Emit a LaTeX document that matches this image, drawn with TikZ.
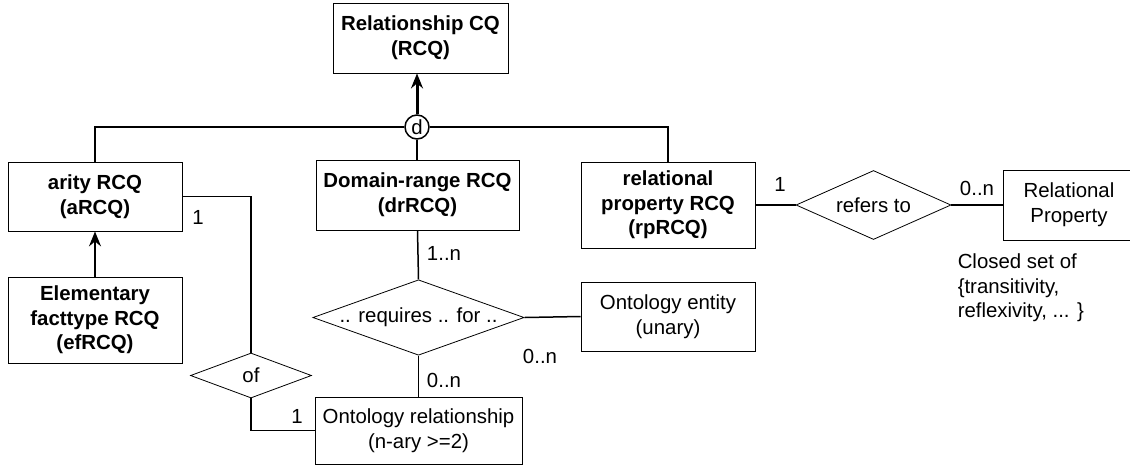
\documentclass[tikz,border=0pt]{standalone}
\usepackage{fontspec}
\setmainfont{Liberation Sans}
\usepackage{tikz}
\usetikzlibrary{arrows.meta,shapes.geometric}
\tikzset{%
    ent/.style={draw, thin, inner sep=0pt, align=center, minimum width=174pt*0.5},
    rel/.style={draw, thin, diamond, aspect=2, inner sep=0pt, align=center},
    card/.style={inner sep=0pt},
    isa/.style={-{Stealth[length=7.5pt,width=6pt,inset=2.5pt]}}
}

\begin{document}
\begin{tikzpicture}[x=0.5pt,y=-0.5pt,line width=0.75pt,
    every node/.append style={font=\fontsize{10.2}{12.3}\selectfont}]
    \useasboundingbox (0,0) rectangle (1130,468);
    \node[ent, minimum width=87.5pt, minimum height=35pt, font=\fontsize{10.2}{12.3}\selectfont\bfseries] (rcq) at (420.5,38) {Relationship CQ\\(RCQ)};
    \node[draw, circle, minimum size=12pt, inner sep=0pt] (d) at (417,127) {d};
    \node[ent, minimum width=87pt, minimum height=34.5pt, font=\fontsize{10.2}{12.3}\selectfont\bfseries] (arity) at (95,196.5) {arity RCQ\\(aRCQ)};
    \node[ent, minimum width=101.5pt, minimum height=35pt, font=\fontsize{10.2}{12.3}\selectfont\bfseries] (dr) at (417.5,195) {Domain-range RCQ\\(drRCQ)};
    \node[ent, minimum width=87pt, minimum height=43pt, font=\fontsize{10.2}{12.3}\selectfont\bfseries] (rp) at (668,205) {relational\\property RCQ\\(rpRCQ)};
    \node[ent, minimum width=87pt, minimum height=43pt, font=\fontsize{10.2}{12.3}\selectfont\bfseries] (ef) at (95,320) {Elementary\\facttype RCQ\\(efRCQ)};
    \node[rel, minimum width=60.5pt, minimum height=22.5pt, aspect=2.7] (of) at (251,375.5) {of};
    \node[rel, minimum width=103.5pt, minimum height=36.5pt, aspect=2.8] (req) at (418.5,317.5) {.. requires .. for ..};
    \node[ent, minimum width=87pt, minimum height=34.5pt] (entity) at (668,316.5) {Ontology entity\\(unary)};
    \node[ent, minimum width=103.5pt, minimum height=33.5pt] (ontrel) at (418.5,430.5) {Ontology relationship\\(n-ary >=2)};
    \node[rel, minimum width=77.5pt, minimum height=34.5pt, aspect=2.25] (refers) at (873.5,205) {refers to};
    \node[ent, minimum width=66pt, minimum height=35pt] (relprop) at (1069,205) {Relational\\Property};
    \node[card, anchor=west, align=left] (closed) at (957,288) {Closed set of\\\{transitivity,\\reflexivity, ... \}};
    \draw[isa, line width=1.5pt] (d.north) -- (d.north |- rcq.south);
    \draw (arity.north) |- (d.west);
    \draw (d.east) -| (rp.north);
    \draw (d.south) -- (d.south |- dr.north);
    \draw[isa] (ef.north) -- (arity.south);
    \draw (arity.east) -| (of.north);
    \draw (of.south) |- (ontrel.west);
    \draw (dr.south) -- (req.north);
    \draw (req.south) -- (ontrel.north);
    \draw (req.east) -- (entity.west);
    \draw (rp.east) -- (refers.west);
    \draw (refers.east) -- (relprop.west);
    \node[card] (c1) at (198,217) {1};
    \node[card] (c2) at (444,253) {1..n};
    \node[card] (c3) at (444,380) {0..n};
    \node[card] (c4) at (540,356) {0..n};
    \node[card] (c5) at (297,416) {1};
    \node[card] (c6) at (780,184) {1};
    \node[card] (c7) at (977,188) {0..n};
\end{tikzpicture}
\end{document}
